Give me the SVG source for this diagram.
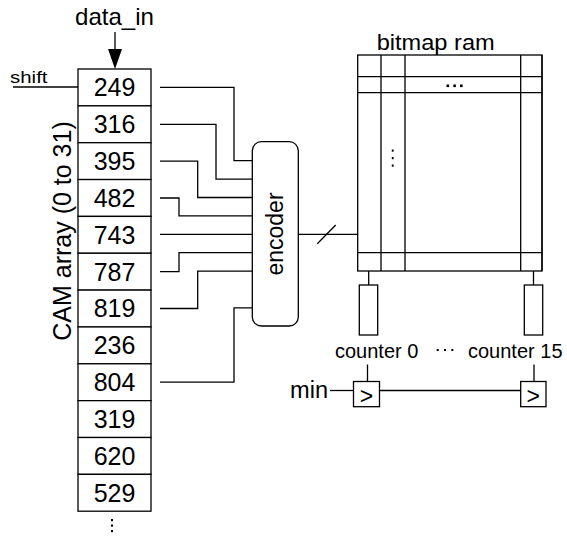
<svg xmlns="http://www.w3.org/2000/svg" width="567" height="537" viewBox="0 0 567 537">
<style>
text{font-family:"Liberation Sans",Arial,sans-serif;fill:#000}
.ln{fill:none;stroke:#000;stroke-width:1.3}
.bx{fill:#fff;stroke:#000;stroke-width:1.3}
.num{font-size:25px;text-anchor:middle}
.ctr{font-size:20px}
</style>
<rect width="567" height="537" fill="#fff"/>
<g id="data_in">
<text x="114.5" y="25" font-size="24" text-anchor="middle" textLength="79" lengthAdjust="spacingAndGlyphs">data_in</text>
<line class="ln" x1="115" y1="32" x2="115" y2="52"/>
<polygon points="108,49 122,49 115,69" fill="#000"/>
</g>
<g id="shift">
<text x="10" y="83" font-size="17" textLength="37.5" lengthAdjust="spacingAndGlyphs">shift</text>
<line class="ln" x1="13" y1="87" x2="78" y2="87"/>
</g>
<g id="cam-label">
<text transform="translate(71,231) rotate(-90)" font-size="25" text-anchor="middle">CAM array (0 to 31)</text>
</g>
<g id="cam-array">
<rect class="bx" x="78" y="69" width="73" height="36.85"/>
<rect class="bx" x="78" y="105.85" width="73" height="36.85"/>
<rect class="bx" x="78" y="142.7" width="73" height="36.85"/>
<rect class="bx" x="78" y="179.55" width="73" height="36.85"/>
<rect class="bx" x="78" y="216.4" width="73" height="36.85"/>
<rect class="bx" x="78" y="253.25" width="73" height="36.85"/>
<rect class="bx" x="78" y="290.1" width="73" height="36.85"/>
<rect class="bx" x="78" y="326.95" width="73" height="36.85"/>
<rect class="bx" x="78" y="363.8" width="73" height="36.85"/>
<rect class="bx" x="78" y="400.65" width="73" height="36.85"/>
<rect class="bx" x="78" y="437.5" width="73" height="36.85"/>
<rect class="bx" x="78" y="474.35" width="73" height="36.85"/>
<text class="num" x="114.5" y="96.3">249</text>
<text class="num" x="114.5" y="133.2">316</text>
<text class="num" x="114.5" y="170">395</text>
<text class="num" x="114.5" y="206.9">482</text>
<text class="num" x="114.5" y="243.7">743</text>
<text class="num" x="114.5" y="280.6">787</text>
<text class="num" x="114.5" y="317.4">819</text>
<text class="num" x="114.5" y="354.3">236</text>
<text class="num" x="114.5" y="391.1">804</text>
<text class="num" x="114.5" y="427.9">319</text>
<text class="num" x="114.5" y="464.8">620</text>
<text class="num" x="114.5" y="501.7">529</text>
<rect x="111" y="519" width="2" height="2.2" fill="#000"/>
<rect x="111" y="524.5" width="2" height="2.2" fill="#000"/>
<rect x="111" y="530" width="2" height="2.2" fill="#000"/>
</g>
<g id="encoder">
<rect class="bx" x="252.3" y="141.7" width="46" height="184.3" rx="9"/>
<text transform="translate(283,234) rotate(-90)" font-size="23" text-anchor="middle">encoder</text>
</g>
<g id="bitmap-ram">
<text x="376.7" y="50" font-size="22" textLength="118" lengthAdjust="spacingAndGlyphs">bitmap ram</text>
<rect class="bx" x="357.7" y="55" width="184.3" height="216"/>
<line class="ln" x1="381" y1="55" x2="381" y2="271" stroke-width="2"/>
<line class="ln" x1="405" y1="55" x2="405" y2="271"/>
<line class="ln" x1="520.7" y1="55" x2="520.7" y2="271"/>
<line class="ln" x1="357.7" y1="76.7" x2="542" y2="76.7"/>
<line class="ln" x1="357.7" y1="92.7" x2="542" y2="92.7"/>
<line class="ln" x1="357.7" y1="252.7" x2="542" y2="252.7"/>
<line class="ln" x1="542" y1="55" x2="542" y2="271" stroke-width="2"/>
<rect x="446.5" y="84.5" width="2.6" height="2.6" fill="#000"/>
<rect x="453.3" y="84.5" width="2.6" height="2.6" fill="#000"/>
<rect x="460" y="84.5" width="2.6" height="2.6" fill="#000"/>
<rect x="391.8" y="149.5" width="1.8" height="2.2" fill="#000"/>
<rect x="391.8" y="157" width="1.8" height="2.2" fill="#000"/>
<rect x="391.8" y="164.5" width="1.8" height="2.2" fill="#000"/>
</g>
<g id="counter0">
<rect class="bx" x="359.3" y="285" width="18.4" height="50"/>
<text class="ctr" x="335" y="358">counter 0</text>
</g>
<g id="counter15">
<rect class="bx" x="524.3" y="285" width="18.4" height="50"/>
<text class="ctr" x="468" y="358">counter 15</text>
</g>
<g id="counter-dots">
<rect x="436.7" y="349" width="2" height="2" fill="#000"/>
<rect x="444" y="349" width="2" height="2" fill="#000"/>
<rect x="451.3" y="349" width="2" height="2" fill="#000"/>
</g>
<g id="min">
<text x="290" y="397.5" font-size="23" textLength="38" lengthAdjust="spacingAndGlyphs">min</text>
</g>
<g id="ff0">
<rect class="bx" x="353.5" y="381.5" width="26" height="25.2"/>
<text x="366.5" y="403.5" font-size="23" text-anchor="middle">&gt;</text>
</g>
<g id="ff15">
<rect class="bx" x="520.7" y="381.5" width="25.3" height="25.2"/>
<text x="533.3" y="403.5" font-size="23" text-anchor="middle">&gt;</text>
</g>
<g id="connectors">
<polyline class="ln" points="160,87.4 234,87.4 234,160.7 252.3,160.7"/>
<polyline class="ln" points="160,124.3 216,124.3 216,179.1 252.3,179.1"/>
<polyline class="ln" points="160,161.1 197.7,161.1 197.7,197.5 252.3,197.5"/>
<polyline class="ln" points="160,198 179,198 179,215.9 252.3,215.9"/>
<polyline class="ln" points="160,234.3 252.3,234.3"/>
<polyline class="ln" points="160,271.7 179,271.7 179,252.7 252.3,252.7"/>
<polyline class="ln" points="160,308.5 197.7,308.5 197.7,271.1 252.3,271.1"/>
<polyline class="ln" points="160,382.2 234,382.2 234,307.9 252.3,307.9"/>
<line class="ln" x1="298.3" y1="234.3" x2="357.7" y2="234.3"/>
<line class="ln" x1="317.3" y1="243.7" x2="335.7" y2="225"/>
<line class="ln" x1="368.7" y1="271" x2="368.7" y2="285"/>
<line class="ln" x1="533.5" y1="271" x2="533.5" y2="285"/>
<line class="ln" x1="367.5" y1="364.5" x2="367.5" y2="381.5"/>
<line class="ln" x1="534" y1="364.5" x2="534" y2="381.5"/>
<line class="ln" x1="330" y1="390.5" x2="353.5" y2="390.5"/>
<line class="ln" x1="379.5" y1="390.5" x2="520.7" y2="390.5"/>
</g>
</svg>
